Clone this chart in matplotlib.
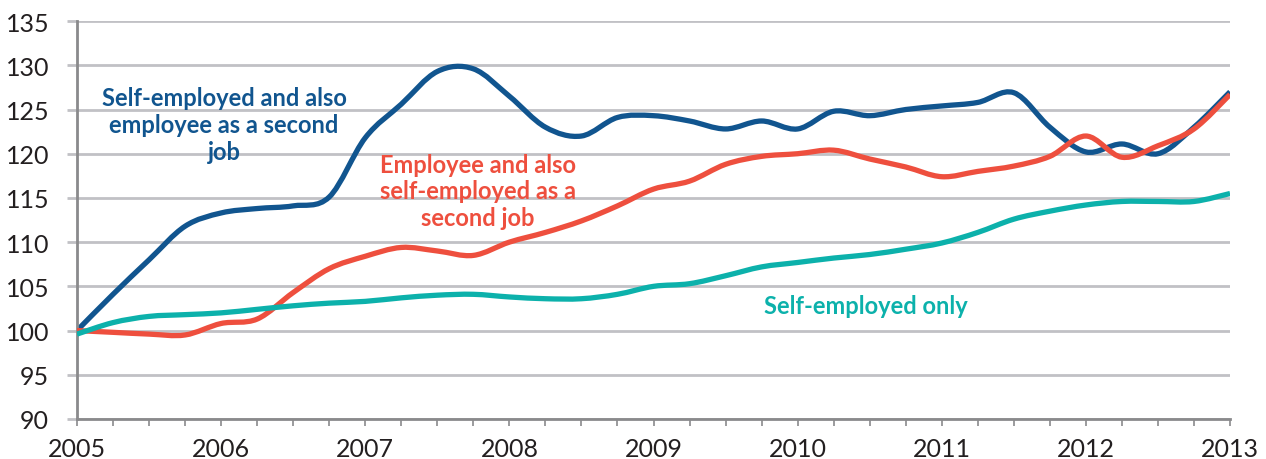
#!/usr/bin/env python3
"""
Self-employment index by type of second job, 2005 = 100
"""

import numpy as np
import matplotlib.pyplot as plt
from matplotlib.path import Path
from matplotlib.patches import PathPatch
from matplotlib.ticker import MultipleLocator

# Quarterly observations, 2005 Q1 to 2013 Q1
quarters = 2005 + np.arange(33) / 4

self_employed_plus_employee = [
    100.0, 104.1, 108.0, 111.8, 113.3, 113.8, 114.1, 115.1, 121.8, 125.6,
    129.3, 129.6, 126.5, 123.0, 122.0, 124.1, 124.3, 123.7, 122.8, 123.7,
    122.8, 124.8, 124.3, 125.0, 125.4, 125.8, 126.9, 123.0, 120.2, 121.1,
    120.0, 123.0, 127.0,
]
employee_plus_self_employed = [
    100.0, 99.8, 99.6, 99.5, 100.8, 101.3, 104.3, 107.0, 108.4, 109.4,
    109.0, 108.5, 110.0, 111.1, 112.4, 114.1, 116.0, 116.9, 118.8, 119.7,
    120.0, 120.4, 119.4, 118.5, 117.4, 118.0, 118.6, 119.7, 122.0, 119.6,
    120.9, 122.8, 126.7,
]
self_employed_only = [
    99.6, 100.9, 101.6, 101.8, 102.0, 102.4, 102.8, 103.1, 103.3, 103.7,
    104.0, 104.1, 103.8, 103.6, 103.6, 104.1, 105.0, 105.3, 106.2, 107.2,
    107.7, 108.2, 108.6, 109.2, 109.9, 111.1, 112.6, 113.5, 114.2, 114.6,
    114.6, 114.6, 115.5,
]

COLORS = {
    'blue': '#11558f',
    'red': '#ee4f3e',
    'teal': '#0cb1ab',
    'grid': '#c1c1c5',
    'axis': '#8a8a8c',
    'text': '#231f20',
}


def smooth_path(x, y):
    """Bezier path through the points (Catmull-Rom style control points)"""
    pts = np.column_stack([x, y])
    ext = np.vstack([pts[0], pts, pts[-1]])
    verts = [pts[0]]
    codes = [Path.MOVETO]
    for i in range(len(pts) - 1):
        p0, p1, p2, p3 = ext[i], ext[i + 1], ext[i + 2], ext[i + 3]
        verts += [p1 + (p2 - p0) / 6, p2 - (p3 - p1) / 6, p2]
        codes += [Path.CURVE4] * 3
    return Path(verts, codes)


fig = plt.figure(figsize=(12.66, 4.6), dpi=100)
ax = fig.add_axes([0.0608, 0.087, 0.9108, 0.865])

series = [
    (self_employed_plus_employee, COLORS['blue'], 2),
    (employee_plus_self_employed, COLORS['red'], 3),
    (self_employed_only, COLORS['teal'], 4),
]
for values, color, z in series:
    patch = PathPatch(smooth_path(quarters, values), facecolor='none',
                      edgecolor=color, linewidth=3.8, capstyle='butt',
                      joinstyle='round', zorder=z)
    ax.add_patch(patch)

ax.set_xlim(2005, 2013)
ax.set_ylim(90, 135)

# Gridlines and axes
ax.yaxis.set_major_locator(MultipleLocator(5))
ax.xaxis.set_major_locator(MultipleLocator(1))
ax.xaxis.set_minor_locator(MultipleLocator(0.25))
ax.grid(axis='y', color=COLORS['grid'], linewidth=2.0, zorder=0)
ax.set_axisbelow(True)

for side in ['top', 'right']:
    ax.spines[side].set_visible(False)
ax.spines['left'].set_color(COLORS['axis'])
ax.spines['left'].set_linewidth(2.0)
ax.spines['bottom'].set_color(COLORS['axis'])
ax.spines['bottom'].set_linewidth(2.0)
ax.spines['bottom'].set_zorder(1)

ax.tick_params(axis='y', length=7, width=2.0, color=COLORS['grid'],
               pad=13, labelsize=18, labelcolor=COLORS['text'])
ax.tick_params(axis='x', which='both', length=5, width=1.2,
               color=COLORS['axis'], direction='out')
ax.tick_params(axis='x', which='major', pad=8, labelsize=18,
               labelcolor=COLORS['text'])
ax.set_xticklabels([str(int(t)) for t in ax.get_xticks()])

for lbl in ax.get_xticklabels() + ax.get_yticklabels():
    lbl.set_family('Lato')

# Series labels
label_style = dict(ha='center', va='center', fontsize=17, fontweight='bold',
                   family='Lato', linespacing=1.2)
ax.text(2006.02, 123.3, 'Self-employed and also\nemployee as a second\njob',
        color=COLORS['blue'], **label_style)
ax.text(2007.78, 115.8, 'Employee and also\nself-employed as a\nsecond job',
        color=COLORS['red'], **label_style)
ax.text(2010.47, 102.8, 'Self-employed only',
        color=COLORS['teal'], **label_style)

plt.savefig('out.png', dpi=100)
plt.close(fig)
